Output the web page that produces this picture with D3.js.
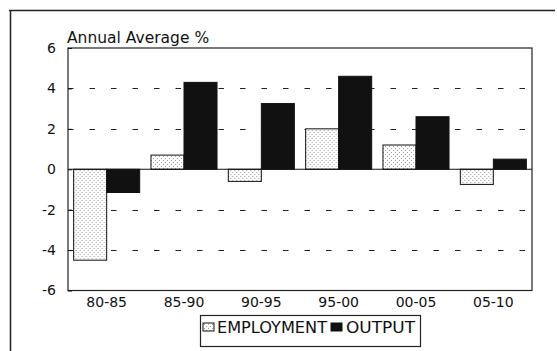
<!DOCTYPE html>
<html><head><meta charset="utf-8">
<script src="https://cdn.jsdelivr.net/npm/d3@7"></script>
<style>html,body{margin:0;padding:0;background:#fff;}svg{display:block;}</style>
</head><body>
<script>
const categories = ["80-85","85-90","90-95","95-00","00-05","05-10"];
const seriesNames = ["EMPLOYMENT","OUTPUT"];
const employment = [-4.5, 0.7, -0.6, 2.0, 1.2, -0.75];
const output = [-1.15, 4.3, 3.25, 4.6, 2.6, 0.5];
const yTicks = [6,4,2,0,-2,-4,-6];
const yTickLabels = ["6","4","2","0","-2","-4","-6"];
const gridValues = [4,2,-2,-4];
const title = "Annual Average %";

const W = 557, H = 351;
const plot = {left:68, right:532, top:48, bottom:290.5};
const font = "'DejaVu Sans', sans-serif";

const svg = d3.select("body").append("svg").attr("width",W).attr("height",H);
const defs = svg.append("defs");
const pat = defs.append("pattern").attr("id","stipple").attr("patternUnits","userSpaceOnUse")
  .attr("width",4).attr("height",4);
pat.append("rect").attr("width",4).attr("height",4).attr("fill","#fcfcfc");
pat.append("rect").attr("x",0).attr("y",0).attr("width",1).attr("height",1).attr("fill","#a0a0a0");
pat.append("rect").attr("x",2).attr("y",2).attr("width",1).attr("height",1).attr("fill","#a0a0a0");

const fills = {"EMPLOYMENT":"url(#stipple)","OUTPUT":"#111"};

// outer frame (top & left)
svg.append("path").attr("d",`M9,10.5H555M10.5,10V351`).attr("fill","none")
  .attr("stroke","#222").attr("stroke-width",1.5);

const x0 = d3.scaleBand().domain(categories).range([plot.left,plot.right])
  .paddingInner(0.146).paddingOuter(0.073);
const x1 = d3.scaleBand().domain(seriesNames).range([0,x0.bandwidth()]);
const y = d3.scaleLinear().domain([-6,6]).range([plot.bottom,plot.top]);

// gridlines
svg.append("g").selectAll("line").data(gridValues).join("line")
  .attr("x1",plot.left).attr("x2",plot.right)
  .attr("y1",d=>Math.round(y(d))+0.5).attr("y2",d=>Math.round(y(d))+0.5)
  .attr("stroke","#222").attr("stroke-width",1.2).attr("stroke-dasharray","5.5,16");

// bars
const rows = categories.map((c,i)=>({cat:c, vals:[{s:"EMPLOYMENT",v:employment[i]},{s:"OUTPUT",v:output[i]}]}));
const g = svg.append("g").selectAll("g").data(rows).join("g")
  .attr("transform",d=>`translate(${x0(d.cat)},0)`);
g.selectAll("rect").data(d=>d.vals).join("rect")
  .attr("x",d=>x1(d.s)).attr("width",x1.bandwidth())
  .attr("y",d=>y(Math.max(0,d.v))).attr("height",d=>Math.abs(y(d.v)-y(0)))
  .attr("fill",d=>fills[d.s]).attr("stroke","#111").attr("stroke-width",1);

// zero line
svg.append("line").attr("x1",plot.left).attr("x2",plot.right)
  .attr("y1",y(0)).attr("y2",y(0)).attr("stroke","#111").attr("stroke-width",1.2);

// plot frame
svg.append("rect").attr("x",plot.left).attr("y",plot.top)
  .attr("width",plot.right-plot.left).attr("height",plot.bottom-plot.top)
  .attr("fill","none").attr("stroke","#222").attr("stroke-width",1.2);

// y axis
const yAxis = d3.axisLeft(y).tickValues(yTicks)
  .tickFormat((d,i)=>yTickLabels[i]).tickSizeInner(-4).tickSizeOuter(0).tickPadding(12);
const ya = svg.append("g").attr("transform",`translate(${plot.left},0)`).call(yAxis);
ya.select(".domain").remove();
ya.selectAll("line").attr("stroke","#111");
ya.selectAll("text").attr("font-family",font).attr("font-size",14).attr("fill","#111");

// x axis labels
const xAxis = d3.axisBottom(x0).tickSize(0).tickPadding(7);
const xa = svg.append("g").attr("transform",`translate(0,${plot.bottom})`).call(xAxis);
xa.select(".domain").remove();
xa.selectAll("text").attr("font-family",font).attr("font-size",14).attr("fill","#111");

// title
svg.append("text").attr("x",67).attr("y",43).text(title)
  .attr("font-family",font).attr("font-size",15.5).attr("fill","#111");

// legend
const lg = svg.append("g");
lg.append("rect").attr("x",200.5).attr("y",315.5).attr("width",220).attr("height",31)
  .attr("fill","#fff").attr("stroke","#222").attr("stroke-width",1.2);
const legendItems = [
  {s:"EMPLOYMENT", sx:203, tx:217, tl:110},
  {s:"OUTPUT", sx:331, tx:346, tl:69}
];
legendItems.forEach(it=>{
  lg.append("rect").attr("x",it.sx).attr("y",323).attr("width",11).attr("height",8)
    .attr("fill",fills[it.s]).attr("stroke","#111").attr("stroke-width",1);
  lg.append("text").attr("x",it.tx).attr("y",333).text(it.s)
    .attr("font-family",font).attr("font-size",15).attr("fill","#111")
    .attr("textLength",it.tl).attr("lengthAdjust","spacingAndGlyphs");
});
</script>
</body></html>
